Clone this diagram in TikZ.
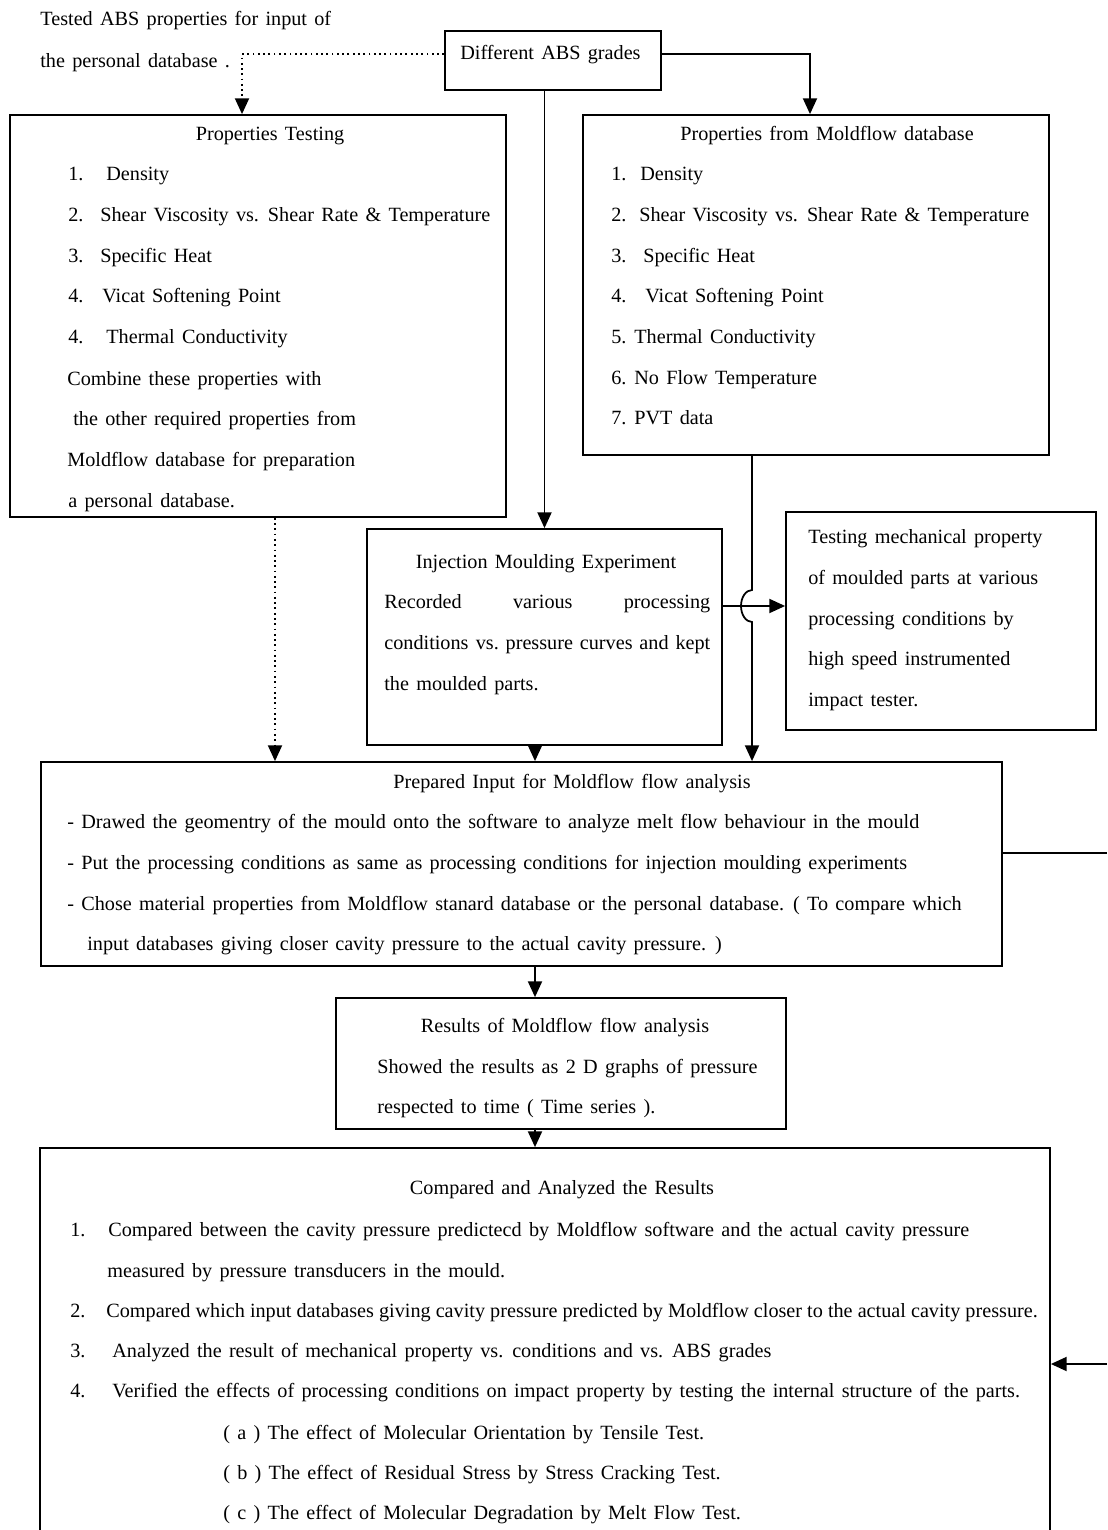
\documentclass[tikz,border=0pt]{standalone}
\usepackage{fontspec}
\setmainfont{Liberation Serif}
\usetikzlibrary{positioning, fit, arrows.meta}

\newcommand{\chartfont}{\fontsize{11.5}{14}\selectfont\spaceskip=0.36em plus 0.1em minus 0.05em\relax}
\newcommand{\tightfont}{\fontsize{11.5}{14}\selectfont\spaceskip=0.25em\relax}

\tikzset{
	frame/.style={draw, line width=1pt, inner sep=0pt},
	entry/.style={anchor=mid west, inner sep=0pt, yshift=-1.7pt, font=\chartfont},
	heading/.style={anchor=mid, inner sep=0pt, yshift=-1.7pt, font=\chartfont},
	flow/.style={line width=1pt, ->},
	dotflow/.style={line width=1pt, dotted, ->}
}

\begin{document}
\begin{tikzpicture}[x=0.02cm, y=-0.02cm, >={Triangle[length=9pt, width=8pt]}]

	\useasboundingbox (0,0) rectangle (1107,1530);

	% note and grades
	\node[entry] (noteA) at (40,18) {Tested ABS properties for input of};
	\node[entry] (noteB) at (40,60) {the personal database .};
	\node[frame, fit={(445,31) (661,90)}] (grades) {};
	\node[entry] (gtext) at (460,52) {Different ABS grades};

	% properties testing
	\node[frame, fit={(10,115) (506,517)}] (test) {};
	\node[heading] (testT) at (270,133) {Properties Testing};
	\foreach \num/\x/\txt [count=\i] in {1./106/Density, 2./100/Shear Viscosity vs. Shear Rate \& Temperature, 3./100/Specific Heat, 4./102/Vicat Softening Point, 4./106/Thermal Conductivity}
	{
		\node[entry] (testN\i) at (68,133+40.7*\i) {\num};
		\node[entry] (testL\i) at (\x,133+40.7*\i) {\txt};
	}
	\node[entry] (testC1) at (67,378) {Combine these properties with};
	\node[entry] (testC2) at (73,418) {the other required properties from};
	\node[entry] (testC3) at (67,459) {Moldflow database for preparation};
	\node[entry] (testC4) at (68,500) {a personal database.};

	% moldflow database
	\node[frame, fit={(583,115) (1049,455)}] (mold) {};
	\node[heading] (moldT) at (827,133) {Properties from Moldflow database};
	\foreach \num/\x/\txt [count=\i] in {1./640/Density, 2./639/Shear Viscosity vs. Shear Rate \& Temperature, 3./643/Specific Heat, 4./645/Vicat Softening Point, 5./634/Thermal Conductivity, 6./634/No Flow Temperature, 7./634/PVT data}
	{
		\node[entry] (moldN\i) at (611,133+40.7*\i) {\num};
		\node[entry] (moldL\i) at (\x,133+40.7*\i) {\txt};
	}

	% injection moulding
	\node[frame, fit={(367,529) (722,745)}] (inj) {};
	\node[heading] (injT) at (546,561) {Injection Moulding Experiment};
	\node[entry] (injL1) at (384,601) {\hbox to 6.52cm{Recorded\hfil various\hfil processing}};
	\node[entry] (injL2) at (384,642) {\hbox to 6.52cm{conditions vs.\hfil pressure\hfil curves\hfil and\hfil kept}};
	\node[entry] (injL3) at (384,683) {the moulded parts.};

	% mechanical testing
	\node[frame, fit={(786,512) (1096,730)}] (mech) {};
	\foreach \txt [count=\i] in {Testing mechanical property, of moulded parts at various, processing conditions by, high speed instrumented, impact tester.}
		\node[entry] (mechL\i) at (808,496+40.7*\i) {\txt};

	% prepared input
	\node[frame, fit={(41,762) (1002,966)}] (prep) {};
	\node[heading] (prepT) at (572,781) {Prepared Input for Moldflow flow analysis};
	\node[entry] (prepL1) at (67,821) {- Drawed the geomentry of the mould onto the software to analyze melt flow behaviour in the mould};
	\node[entry] (prepL2) at (67,862) {- Put the processing conditions as same as processing conditions for injection moulding experiments};
	\node[entry] (prepL3) at (67,903) {- Chose material properties from Moldflow stanard database or the personal database. ( To compare which};
	\node[entry] (prepL4) at (87,943) {input databases giving closer cavity pressure to the actual cavity pressure. )};

	% results
	\node[frame, fit={(336,998) (786,1129)}] (res) {};
	\node[heading] (resT) at (565,1025) {Results of Moldflow flow analysis};
	\node[entry] (resL1) at (377,1066) {Showed the results as 2 D graphs of pressure};
	\node[entry] (resL2) at (377,1106) {respected to time ( Time series ).};

	% compared and analyzed
	\node[frame, fit={(40,1148) (1050,1545)}] (comp) {};
	\node[heading] (compT) at (562,1187) {Compared and Analyzed the Results};
	\node[entry] (compN1) at (70,1229) {1.};
	\node[entry] (compL1) at (108,1229) {Compared between the cavity pressure predictecd by Moldflow software and the actual cavity pressure};
	\node[entry] (compL1b) at (107,1270) {measured by pressure transducers in the mould.};
	\node[entry] (compN2) at (70,1310) {2.};
	\node[entry, font=\tightfont] (compL2) at (106,1310) {Compared which input databases giving cavity pressure predicted by Moldflow closer to the actual cavity pressure.};
	\node[entry] (compN3) at (70,1350) {3.};
	\node[entry] (compL3) at (112,1350) {Analyzed the result of mechanical property vs. conditions and vs. ABS grades};
	\node[entry] (compN4) at (70,1390) {4.};
	\node[entry] (compL4) at (112,1390) {Verified the effects of processing conditions on impact property by testing the internal structure of the parts.};
	\node[entry] (compA) at (223,1432) {( a ) The effect of Molecular Orientation by Tensile Test.};
	\node[entry] (compB) at (223,1472) {( b ) The effect of Residual Stress by Stress Cracking Test.};
	\node[entry] (compC) at (223,1512) {( c ) The effect of Molecular Degradation by Melt Flow Test.};

	% turning points
	\coordinate (dropA) at (242,0);
	\coordinate (dropB) at (810,0);
	\coordinate (dropC) at (275,0);
	\coordinate (mid) at (535,0);
	\coordinate (hop) at (752,606);
	\coordinate (edgeA) at (1107,853);
	\coordinate (edgeB) at (1107,1364);

	% connectors
	\draw[dotflow] (gtext -| grades.west) -| (test.north -| dropA);
	\draw[flow] (gtext -| grades.east) -| (mold.north -| dropB);
	\draw[flow] (grades.south -| inj.north) -- (inj.north);
	\draw[flow] (inj.east |- hop) -- (mech.west |- hop);
	\draw[flow] (mold.south -| hop) -- ([yshift=0.32cm]hop)
		arc[start angle=90, end angle=270, x radius=0.22cm, y radius=0.32cm]
		-- (prep.north -| hop);
	\draw[dotflow] (test.south -| dropC) -- (prep.north -| dropC);
	\draw[flow] (inj.south -| mid) -- (prep.north -| mid);
	\draw[flow] (prep.south -| mid) -- (res.north -| mid);
	\draw[flow] (res.south -| mid) -- (comp.north -| mid);
	\draw[line width=1pt] (prep.east |- edgeA) -- (edgeA);
	\draw[flow] (edgeB) -- (comp.east |- edgeB);

\end{tikzpicture}
\end{document}
